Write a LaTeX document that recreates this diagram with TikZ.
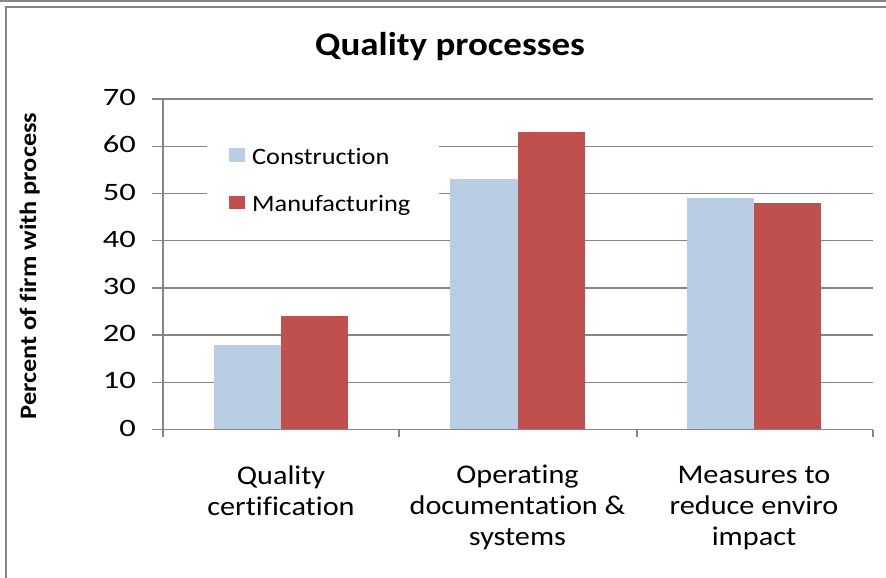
\documentclass[tikz,border=0pt]{standalone}
\usepackage{fontspec}
\setmainfont{Carlito}[FakeStretch=1.12, Ligatures=NoCommon]
\newfontfamily\tickfont{Carlito}[FakeStretch=1.3]
\usetikzlibrary{positioning}
\definecolor{framegray}{RGB}{134,134,134}
\definecolor{constblue}{RGB}{185,205,229}
\definecolor{manured}{RGB}{192,80,77}

\begin{document}
\begin{tikzpicture}[
    x=1pt, y=-1pt,
    grid/.style={draw=framegray, line width=1.4pt},
    ticklabel/.style={anchor=mid east, inner sep=0pt, font=\tickfont\fontsize{25}{30}\selectfont},
    catlabel/.style={anchor=base, align=center, inner sep=0pt, font=\fontsize{27}{31}\selectfont},
    keylabel/.style={anchor=west, inner sep=0pt, font=\fontsize{23.5}{28}\selectfont}
]
\useasboundingbox (0,0) rectangle (886,578);

% outer frame
\draw[framegray, line width=1.5pt] (0,1) -- (886,1);
\draw[framegray, line width=2pt] (890,7.5) -- (6,7.5) -- (6,582);

\node[anchor=base, font=\bfseries\fontsize{33}{38}\selectfont] (title) at (450,56) {Quality processes};
\node[rotate=90, anchor=base, font=\bfseries\fontsize{23.5}{28}\selectfont] (ylab) at (36,266) {Percent of firm with process};

% plot area, values upwards
\begin{scope}[shift={(0,429.5)}, y=4.72pt]
\foreach \v in {10,20,...,70}
    \draw[grid] (152,\v) -- (873,\v);
\fill[white] (207,43.5) rectangle (439,65.5);

\foreach \c/\a/\b in {0/18/24, 1/53/63, 2/49/48} {
    \pgfmathsetmacro\m{281+236.5*\c}
    \fill[constblue] (\m-67.3,0) rectangle (\m,\a);
    \fill[manured] (\m,0) rectangle (\m+67.3,\b);
}

\draw[grid] (152,0) -- (873,0);
\draw[grid] (163,70) -- (163,-1.6);
\foreach \t in {399,637,873}
    \draw[grid] (\t,0) -- (\t,-1.6);

\foreach \v in {0,10,...,70}
    \node[ticklabel] (n\v) at (136,\v-0.9) {\v};
\end{scope}

% legend
\fill[constblue] (229,148) rectangle (245,162);
\fill[manured] (229,196) rectangle (245,209);
\node[keylabel] (kc) at (252,157) {Construction};
\node[keylabel] (km) at (252,205) {Manufacturing};

% categories (base = last line)
\node[catlabel] (c1) at (281,515) {Quality\\certification};
\node[catlabel] (c2) at (517.5,545) {Operating\\documentation \&\\systems};
\node[catlabel] (c3) at (754,545) {Measures to\\reduce enviro\\impact};
\end{tikzpicture}
\end{document}
